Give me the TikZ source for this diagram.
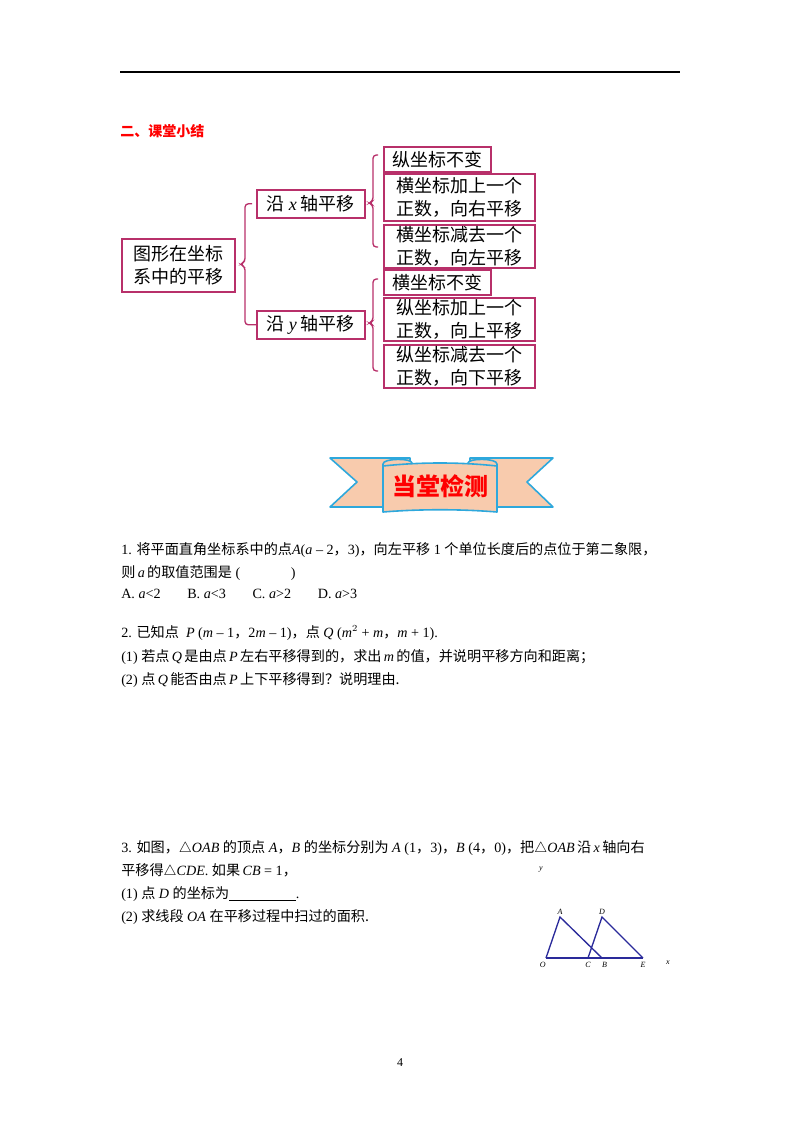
\documentclass[tikz,border=0pt]{standalone}
\usepackage{fontspec}
\setmainfont{Liberation Serif}
\newfontfamily\cjk{Noto Sans CJK SC}
\newcommand\zh[1]{{\cjk #1}}
\definecolor{mag}{HTML}{B8306A}
\definecolor{peach}{HTML}{F8CBAD}
\definecolor{sky}{HTML}{2EA8DC}
\definecolor{navy}{HTML}{2A2A9A}
\begin{document}
\begin{tikzpicture}[x=0.75pt,y=-0.75pt,
  txt/.style={anchor=base west,inner sep=0pt,font=\fontsize{10.6}{12}\selectfont},
  mbox/.style={draw=mag,line width=1.2pt,anchor=north west,inner sep=0pt,align=left,font=\fontsize{13.5}{17}\selectfont\cjk},
  brace/.style={draw=mag,line width=1pt,rounded corners=2.5pt},
  lab/.style={inner sep=0pt,font=\fontsize{6}{7}\selectfont\itshape}]
\useasboundingbox (0,0) rectangle (800,1132);
\draw[line width=0.8pt] (120,72) -- (680,72);
\node[txt,text=red,font=\fontsize{10.5}{12}\selectfont\cjk\bfseries] (h) at (120,136) {二、课堂小结};
% diagram
\node[mbox,minimum width=113*0.75pt,minimum height=53*0.75pt,align=center] (root) at (121,238) {图形在坐标\\系中的平移};
\node[mbox,minimum width=108*0.75pt,minimum height=28*0.75pt,align=center] (bx) at (256,189) {沿 {\rmfamily\itshape x} 轴平移};
\node[mbox,minimum width=108*0.75pt,minimum height=28*0.75pt,align=center] (by) at (256,310) {沿 {\rmfamily\itshape y} 轴平移};
\node[mbox,minimum width=107*0.75pt,minimum height=25*0.75pt,align=center] (x1) at (383,146) {纵坐标不变};
\node[mbox,minimum width=151*0.75pt,minimum height=47*0.75pt,align=center] (x2) at (383,173) {横坐标加上一个\\正数，向右平移};
\node[mbox,minimum width=151*0.75pt,minimum height=43*0.75pt,align=center] (x3) at (383,224) {横坐标减去一个\\正数，向左平移};
\node[mbox,minimum width=107*0.75pt,minimum height=25*0.75pt,align=center] (y1) at (383,269) {横坐标不变};
\node[mbox,minimum width=151*0.75pt,minimum height=43*0.75pt,align=center] (y2) at (383,297) {纵坐标加上一个\\正数，向上平移};
\node[mbox,minimum width=151*0.75pt,minimum height=43*0.75pt,align=center] (y3) at (383,344) {纵坐标减去一个\\正数，向下平移};
\draw[brace] (bx.west) ++(-4,0) -- ++(-7,0) -- ++(0,58) -- ++(-5,2.5) -- ++(5,2.5) -- ++(0,58) -- (by.west -| 252,0) -- (by.west);
\draw[brace] (378,155) -- (373,155) -- (373,201) -- (369,203) -- (373,205) -- (373,247) -- (378,247);
\draw[brace] (378,279) -- (373,279) -- (373,321) -- (369,323) -- (373,325) -- (373,371) -- (378,371);
% banner
\begin{scope}[draw=sky,fill=peach,line width=1.2pt,line join=round]
\filldraw (330,458) -- (410,458) -- (410,507) -- (330,507) -- (357,482) -- cycle;
\filldraw (553,458) -- (470,458) -- (470,507) -- (553,507) -- (527,482) -- cycle;
\filldraw (383,464) .. controls (383,458) and (412,458) .. (412,463) -- (412,468) -- (383,468) -- cycle;
\filldraw (468,463) .. controls (468,458) and (497,458) .. (497,464) -- (497,468) -- (468,468) -- cycle;
\filldraw (383,466) .. controls (420,462) and (460,462) .. (497,466) -- (497,512) .. controls (460,509) and (420,509) .. (383,512) -- cycle;
\end{scope}
\node[inner sep=0pt,text=red,font=\fontsize{18}{19}\selectfont\cjk\bfseries] (ban) at (440,486) {当堂检测};
% question 1
\node[txt] (q1a) at (121,554) {1. \zh{将平面直角坐标系中的点}\textit{A}(\textit{a} – 2\zh{，}3)\zh{，向左平移} 1 \zh{个单位长度后的点位于第二象限，}};
\node[txt] (q1b) at (121,577) {\zh{则}\,\textit{a}\,\zh{的取值范围是} (\hspace{38pt})};
\node[txt] (q1c) at (121,598) {A. \textit{a}<2\hspace{20pt}B. \textit{a}<3\hspace{20pt}C. \textit{a}>2\hspace{20pt}D. \textit{a}>3};
% question 2
\node[txt] (q2a) at (121,637) {2. \zh{已知点}\ \ \textit{P} (\textit{m} – 1\zh{，}2\textit{m} – 1)\zh{，点}\ \textit{Q} (\textit{m}$^2$ + \textit{m}\zh{，}\textit{m} + 1).};
\node[txt] (q2b) at (121,661) {(1) \zh{若点}\,\textit{Q}\,\zh{是由点}\,\textit{P}\,\zh{左右平移得到的，求出}\,\textit{m}\,\zh{的值，并说明平移方向和距离；}};
\node[txt] (q2c) at (121,684) {(2) \zh{点}\,\textit{Q}\,\zh{能否由点}\,\textit{P}\,\zh{上下平移得到？说明理由.}};
% question 3
\node[txt] (q3a) at (121,852) {3. \zh{如图，}$\triangle$\textit{OAB}\ \zh{的顶点}\ \textit{A}\zh{，}\textit{B}\ \zh{的坐标分别为}\ \textit{A}\ (1\zh{，}3)\zh{，}\textit{B}\ (4\zh{，}0)\zh{，把}$\triangle$\textit{OAB}\,\zh{沿}\,\textit{x}\,\zh{轴向右}};
\node[txt] (q3b) at (121,875) {\zh{平移得}$\triangle$\textit{CDE}. \zh{如果}\,\textit{CB} = 1\zh{，}};
\node[txt] (q3c) at (121,898) {(1) \zh{点}\ \textit{D}\ \zh{的坐标为}\underline{\hspace{50pt}}.};
\node[txt] (q3d) at (121,921) {(2) \zh{求线段}\ \textit{OA}\ \zh{在平移过程中扫过的面积.}};
% figure
\coordinate (O) at (546,958);
\coordinate (A) at (560,917);
\coordinate (B) at (602,958);
\coordinate (C) at (588,958);
\coordinate (D) at (602,917);
\coordinate (E) at (643,958);
\draw[navy,line width=1pt] (O) -- (E);
\draw[navy,line width=1pt] (O) -- (A) -- (B);
\draw[navy,line width=1pt] (C) -- (D) -- (E);
\node[lab,anchor=south] at (A) [yshift=2pt] {A};
\node[lab,anchor=south] at (D) [yshift=2pt] {D};
\node[lab,anchor=north east] at (O) [yshift=-3pt] {O};
\node[lab,anchor=north] at (C) [yshift=-3pt] {C};
\node[lab,anchor=north] at (B) [yshift=-3pt,xshift=2pt] {B};
\node[lab,anchor=north] at (E) [yshift=-3pt] {E};
\node[lab] (ylab) at (541,870) {y};
\node[lab] (xlab) at (668,963) {x};
\node[inner sep=0pt,font=\fontsize{9}{10}\selectfont] (pg) at (400,1063) {4};
\end{tikzpicture}
\end{document}
